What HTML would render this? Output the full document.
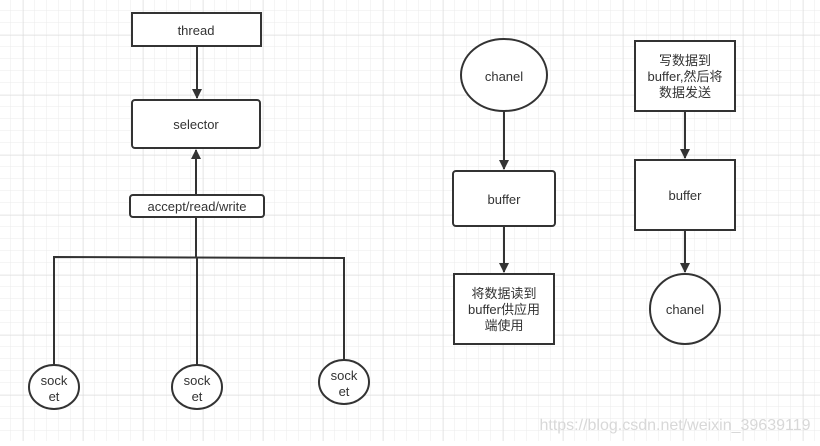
<!DOCTYPE html>
<html><head><meta charset="utf-8"><style>
html,body{margin:0;padding:0;background:#fff}
svg text{font-family:"Liberation Sans","Noto Sans CJK SC",sans-serif;font-size:13px;fill:#333;text-anchor:middle}
</style></head><body>
<svg width="820" height="441" viewBox="0 0 820 441" xmlns="http://www.w3.org/2000/svg">
<defs>
<pattern id="g" width="12" height="12" patternUnits="userSpaceOnUse" x="-1" y="-1">
<path d="M12 0V12M0 12H12" stroke="#ebebeb" stroke-width="1" fill="none"/>
</pattern>
<pattern id="G" width="60" height="60" patternUnits="userSpaceOnUse" x="23.5" y="35.5">
<path d="M0 0V60M0 0H60" stroke="#dcdcdc" stroke-width="1" fill="none"/>
</pattern>
<marker id="a" markerWidth="10" markerHeight="10" refX="9" refY="5" orient="auto" markerUnits="userSpaceOnUse">
<path d="M0 0L10 5L0 10Z" fill="#333"/>
</marker>
</defs>
<rect width="820" height="441" fill="url(#g)"/>
<rect width="820" height="441" fill="url(#G)"/>
<g stroke="#333" stroke-width="2" fill="#fff">
<rect x="132" y="13" width="129" height="33"/>
<rect x="132" y="100" width="128" height="48" rx="3"/>
<rect x="130" y="195" width="134" height="22" rx="3"/>
<line x1="197" y1="46" x2="197" y2="98" marker-end="url(#a)" fill="none"/>
<line x1="196" y1="195" x2="196" y2="150" marker-end="url(#a)" fill="none"/>
<polyline points="196,217 196,257" fill="none"/>
<polyline points="54,365 54,257 344,258 344,360" fill="none"/>
<line x1="197" y1="257" x2="197" y2="365"/>
<ellipse cx="54" cy="387" rx="25" ry="22"/>
<ellipse cx="197" cy="387" rx="25" ry="22"/>
<ellipse cx="344" cy="382" rx="25" ry="22"/>
<ellipse cx="504" cy="75" rx="43" ry="36"/>
<rect x="453" y="171" width="102" height="55" rx="3"/>
<rect x="454" y="274" width="100" height="70"/>
<line x1="504" y1="111" x2="504" y2="169" marker-end="url(#a)"/>
<line x1="504" y1="226" x2="504" y2="272" marker-end="url(#a)"/>
<rect x="635" y="41" width="100" height="70"/>
<rect x="635" y="160" width="100" height="70"/>
<ellipse cx="685" cy="309" rx="35" ry="35"/>
<line x1="685" y1="111" x2="685" y2="158" marker-end="url(#a)"/>
<line x1="685" y1="230" x2="685" y2="272" marker-end="url(#a)"/>
</g>
<text x="196" y="35">thread</text>
<text x="196" y="129">selector</text>
<text x="197" y="211">accept/read/write</text>
<text x="54" y="385">sock</text><text x="54" y="401">et</text>
<text x="197" y="385">sock</text><text x="197" y="401">et</text>
<text x="344" y="380">sock</text><text x="344" y="396">et</text>
<text x="504" y="81">chanel</text>
<text x="504" y="204">buffer</text>
<text x="504" y="298">将数据读到</text>
<text x="504" y="314">buffer供应用</text>
<text x="504" y="330">端使用</text>
<text x="685" y="65">写数据到</text>
<text x="685" y="81">buffer,然后将</text>
<text x="685" y="97">数据发送</text>
<text x="685" y="200">buffer</text>
<text x="685" y="314">chanel</text>
<text x="675" y="430" style="font-size:16px;fill:#d8d8d8">https://blog.csdn.net/weixin_39639119</text>
</svg>
</body></html>
